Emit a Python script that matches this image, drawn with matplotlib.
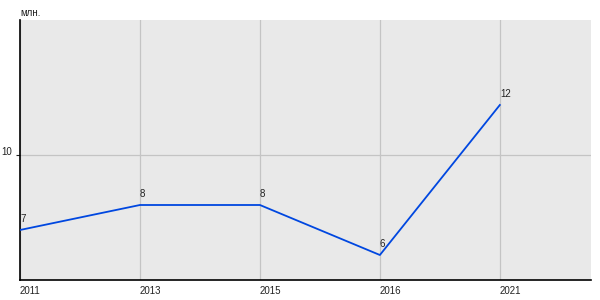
import matplotlib
matplotlib.use("Agg")
import matplotlib.pyplot as plt

years = ['2011', '2013', '2015', '2016', '2021']
values = [7, 8, 8, 6, 12]
y_ticks = [10]

plt.rcParams['font.family'] = ['Liberation Sans', 'DejaVu Sans']

fig = plt.figure(figsize=(6, 3), dpi=100)
ax = fig.add_axes([20 / 600, 20 / 300, 571 / 600, 260 / 300])
ax.set_facecolor('#e9e9e9')

xs = list(range(len(years)))
ax.plot(xs, values, color='#0047e0', lw=1.3, zorder=3)

for x, v in zip(xs, values):
    ax.annotate(str(v), (x, v), xytext=(0, 4), textcoords='offset points',
                ha='left', va='bottom', fontsize=7, color='#222222')

ax.set_xlim(0, 4.76)
ax.set_ylim(5, 15.4)

ax.set_xticks(xs)
ax.set_xticklabels(years, ha='left')
ax.set_yticks(y_ticks)
ax.set_yticklabels([str(t) for t in y_ticks], va='baseline')
ax.tick_params(axis='x', length=0, pad=4, labelsize=7, colors='#222222')
ax.tick_params(axis='y', length=3, pad=3, labelsize=7, colors='#222222')
ax.grid(True, color='#c4c4c4', lw=0.9)
ax.set_axisbelow(True)

for s in ['top', 'right']:
    ax.spines[s].set_visible(False)
for s in ['left', 'bottom']:
    ax.spines[s].set_color('black')
    ax.spines[s].set_linewidth(1.2)

fig.text(20 / 600, 1 - 13 / 300, 'млн.', fontsize=7, ha='left', va='center', color='#222222')

fig.savefig('out.png', dpi=100)
